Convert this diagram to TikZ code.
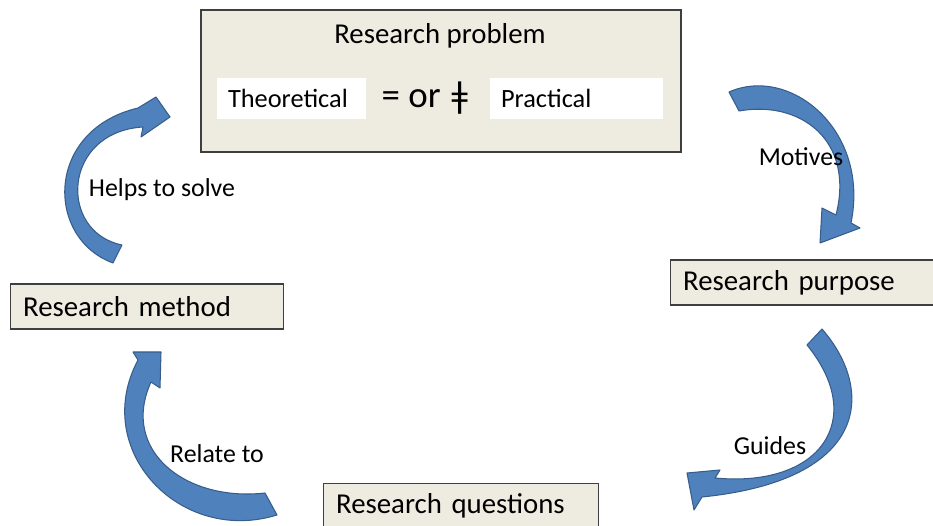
\documentclass[tikz,border=0pt]{standalone}
\usepackage{fontspec}
\setmainfont{Carlito}
\definecolor{boxfill}{HTML}{EEECE1}
\definecolor{boxline}{HTML}{3F3F3F}
\definecolor{arrowfill}{HTML}{4F81BD}
\definecolor{arrowline}{HTML}{385D8A}
\begin{document}
\begin{tikzpicture}[x=0.02cm, y=-0.02cm,
    stage/.style={draw=boxline, fill=boxfill, line width=0.7pt, inner xsep=0.25cm, inner ysep=0pt, minimum height=0.9cm, align=left, font=\fontsize{16.4}{19}\selectfont},
    sidebox/.style={fill=white, inner xsep=0.22cm, inner ysep=0pt, minimum height=0.82cm, align=left, font=\fontsize{15}{18}\selectfont},
    label/.style={font=\fontsize{14.7}{17}\selectfont},
    curvearrow/.style={fill=arrowfill, draw=arrowline, line width=0.6pt, line join=round}]
            \clip (0,0) rectangle (933,526);
            % Research problem
            \node[stage, minimum width=9.6cm, minimum height=2.84cm] (problem) at (441,81) {};
            \node[font=\fontsize{16.4}{19}\selectfont] (title) at (440,36) {Research problem};
            \node[sidebox, text width=2.54cm] (theo) at (291.5,98.5) {Theoretical};
            \node[font=\fontsize{21}{24}\selectfont] (eq) at (426,98) {= or ǂ};
            \node[sidebox, text width=3.02cm] (prac) at (576.5,98.5) {Practical};
            % Stages
            \node[stage, anchor=west, text width=5.3cm] (purpose) at (670,282.5) {Research purpose};
            \node[stage, anchor=west, text width=4.96cm] (method) at (10,306.5) {Research method};
            \node[stage, anchor=west, text width=5.0cm] (questions) at (323,506) {Research questions};
            % Curved arrows
            \draw[curvearrow] (729,92) .. controls (790,65) and (870,130) .. (851,223)
                -- (860,228) -- (820,243) -- (822,208) -- (836,215)
                .. controls (855,140) and (800,100) .. (739,111) -- cycle;
            \draw[curvearrow] (822,329) .. controls (875,390) and (870,480) .. (702,497)
                -- (694,510) -- (687,473) -- (720,470) -- (715,478)
                .. controls (820,488) and (868,420) .. (807,345) -- cycle;
            \draw[curvearrow] (277,515) .. controls (180,545) and (90,450) .. (138,360)
                -- (133,352) -- (161,352) -- (160,388) -- (151,382)
                .. controls (120,450) and (185,502) .. (265,493) -- cycle;
            \draw[curvearrow] (113,263) .. controls (45,238) and (45,130) .. (138,108)
                -- (156,97) -- (170,117) -- (141,137) -- (143,127)
                .. controls (62,132) and (58,232) .. (122,245) -- cycle;
            % Labels
            \node[label] (motives) at (801,157) {Motives};
            \node[label] (guides) at (770,446) {Guides};
            \node[label] (relate) at (217,454) {Relate to};
            \node[label] (helps) at (162,190) {Helps to solve};
          \end{tikzpicture}
\end{document}
